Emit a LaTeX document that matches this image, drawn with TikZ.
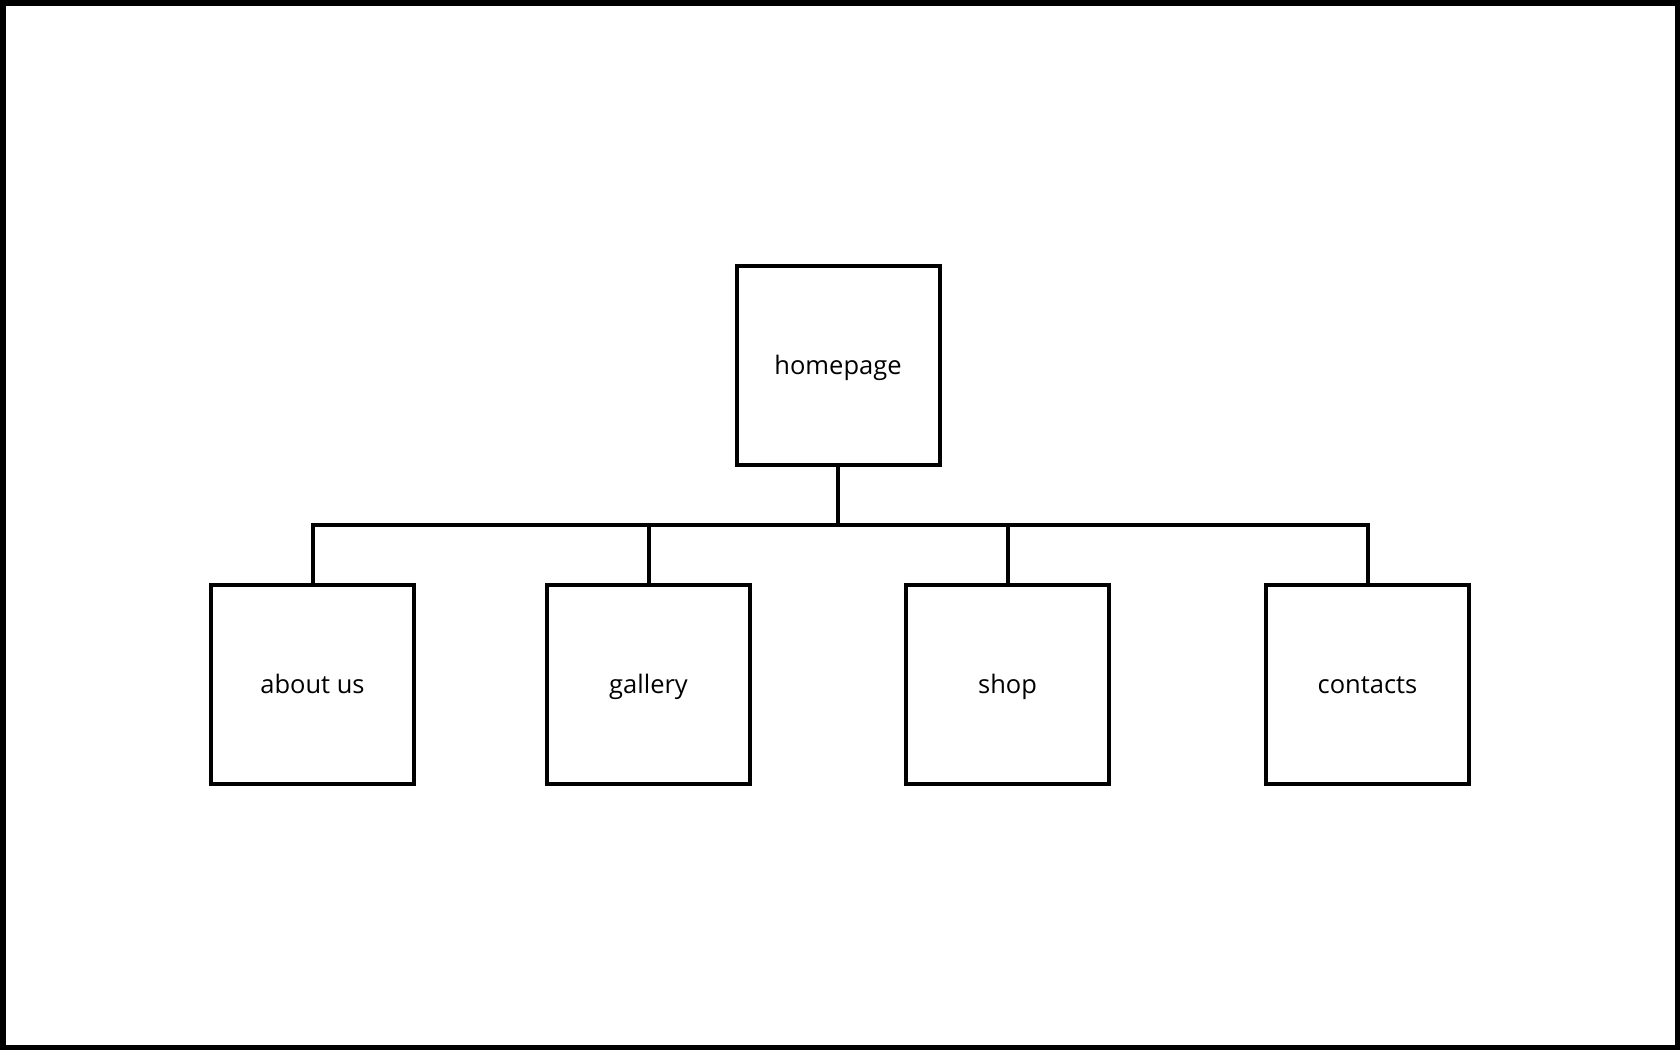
\documentclass[tikz,border=0pt]{standalone}
\usepackage{fontspec}
\setmainfont{Open Sans}
\tikzset{
  page/.style={draw,shape=rectangle,line width=4pt,minimum width=203pt,minimum height=199pt,inner sep=0pt,text height=24pt,text depth=5pt,font=\fontsize{25.5}{30}\selectfont},
  link/.style={line width=4pt}
}
\begin{document}
\begin{tikzpicture}[x=1pt,y=-1pt]
			\useasboundingbox (0,0) rectangle (1680,1050);
			\draw[line width=5.5pt] (2.75,2.75) rectangle (1677.25,1047.25);
			    \node[page] (HP) at (838,365) {homepage};
		    	\node[page] (AU) at (312.5,684) {about us};
		    	\node[page] (GA) at (648.5,684) {gallery};
		    	\node[page] (SH) at (1007.5,684) {shop};
		    	\node[page] (CO) at (1367.5,684) {contacts};
		    	\coordinate (BUS) at (838,525);
		    	
		    	\draw[link] (HP.south)--(HP.south |- BUS);
		    	\draw[link] (AU.north)--(AU.north |- BUS)--(CO.north |- BUS)--(CO.north);
		    	\draw[link] (GA.north)--(GA.north |- BUS);
		    	\draw[link] (SH.north)--(SH.north |- BUS);
		    \end{tikzpicture}
\end{document}
